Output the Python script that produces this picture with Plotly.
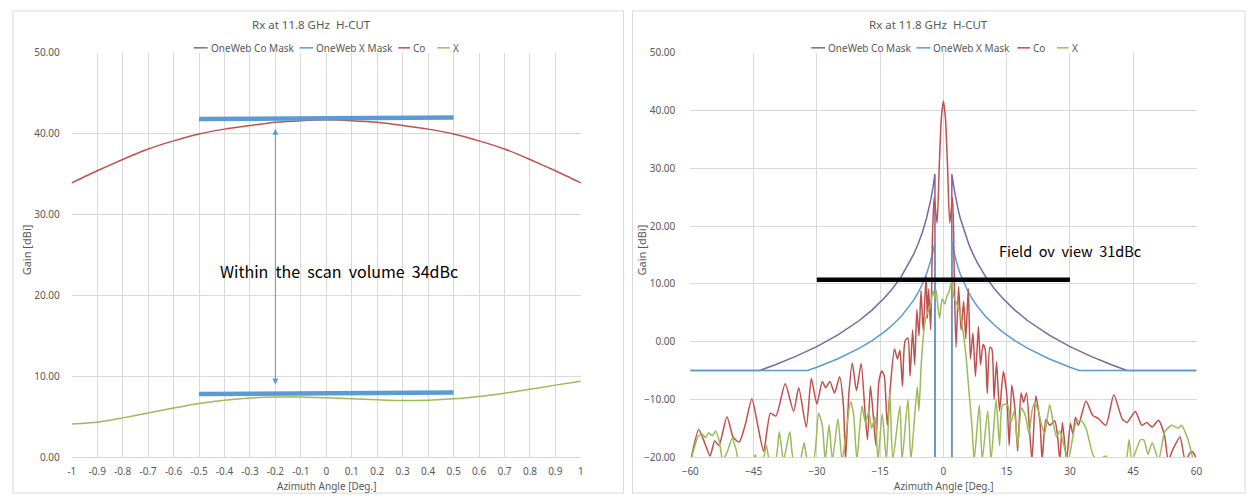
import plotly.graph_objects as go

W, H = 1255, 503

# ---------------- Left chart data (zoom -1..1) ----------------
ang_left = [-1.0, -0.9, -0.8, -0.7, -0.6, -0.5, -0.4, -0.3, -0.2, -0.1, 0.0,
            0.1, 0.2, 0.3, 0.4, 0.5, 0.6, 0.7, 0.8, 0.9, 1.0]
co_left = [33.9, 35.4, 36.8, 38.1, 39.1, 39.95, 40.55, 41.0, 41.4, 41.6, 41.7,
           41.6, 41.4, 41.0, 40.55, 39.95, 39.1, 38.1, 36.8, 35.4, 33.9]
x_left = [4.1, 4.3, 4.85, 5.45, 6.07, 6.64, 7.04, 7.3, 7.42, 7.42, 7.33,
          7.2, 7.09, 7.0, 7.04, 7.2, 7.5, 7.9, 8.4, 8.9, 9.37]

# reference bars drawn on left chart
ref_top_x = [-0.5, 0.5]
ref_top_y = [41.8, 42.0]
ref_bot_x = [-0.5, 0.5]
ref_bot_y = [7.8, 8.0]
arrow_x = -0.2
arrow_y = [40.6, 8.8]

# ---------------- Right chart data (-60..60) ----------------
mask_ang = [-60, -43.5, -40, -35, -30, -25, -20, -17, -14, -12, -10, -8, -7, -6, -5,
            -4, -3.5, -3, -2.5, -2, -2, None, 2, 2, 2.5, 3, 3.5, 4, 5, 6, 7, 8, 10,
            12, 14, 17, 20, 25, 30, 35, 40, 43.5, 60]
co_mask = [-5, -5, -4.05, -2.57, -0.87, 1.14, 3.6, 5.4, 7.53, 9.24, 11.25, 13.71, 15.18,
           16.88, 18.89, 21.35, 22.83, 24.53, 26.54, 29.0, -25, None, -25, 29.0, 26.54,
           24.53, 22.83, 21.35, 18.89, 16.88, 15.18, 13.71, 11.25, 9.24, 7.53, 5.4, 3.6,
           1.14, -0.87, -2.57, -4.05, -5, -5]
xmask_ang = [-60, -32.2, -30, -25, -20, -17, -14, -12, -10, -8, -7, -6, -5, -4, -3.5,
             -3, -2.5, -2, -2, None, 2, 2, 2.5, 3, 3.5, 4, 5, 6, 7, 8, 10, 12, 14, 17,
             20, 25, 30, 32.2, 60]
x_mask = [-5, -5, -4.44, -2.98, -1.19, 0.11, 1.67, 2.9, 4.36, 6.15, 7.22, 8.45, 9.91,
          11.7, 12.77, 14.0, 15.46, 17.25, -25, None, -25, 17.25, 15.46, 14.0, 12.77,
          11.7, 9.91, 8.45, 7.22, 6.15, 4.36, 2.9, 1.67, 0.11, -1.19, -2.98, -4.44, -5, -5]

co_ang = [-60.0, -58.0, -56.6, -55.3, -54.2, -53.2, -51.3, -49.8, -48.4, -47.0, -45.4,
          -44.0, -42.6, -41.0, -39.7, -37.5, -35.5, -34.3, -32.5, -31.3, -30.0, -28.7,
          -27.9, -26.9, -25.8, -24.6, -23.7, -23.2, -22.4, -21.6, -20.6, -19.5, -18.6,
          -18.0, -17.3, -16.6, -16.0, -15.3, -14.6, -14.0, -13.3, -12.6, -11.6, -10.9,
          -10.3, -9.7, -9.1, -8.4, -7.9, -7.3, -6.8, -6.3, -5.8, -5.3, -4.8, -4.1, -3.8,
          -3.5, -3.0, -2.6, -2.2, -1.5, -1.0, -0.5, 0.0, 0.5, 1.0, 1.5, 2.2, 2.6, 3.0,
          3.6, 4.2, 4.8, 5.3, 5.9, 6.4, 7.0, 7.6, 8.3, 8.8, 9.4, 9.9, 10.4, 11.0, 11.5,
          12.0, 12.6, 13.3, 14.2, 15.0, 15.6, 16.2, 17.0, 17.6, 18.4, 19.0, 19.7, 20.5,
          21.0, 21.9, 22.9, 23.4, 24.3, 25.2, 26.4, 27.0, 27.6, 28.2, 28.8, 29.2, 30.1,
          30.7, 31.3, 32.0, 33.8, 35.4, 36.7, 38.5, 40.4, 42.4, 43.5, 45.5, 47.0, 48.2,
          49.5, 51.0, 52.4, 53.3, 54.5, 56.1, 57.3, 58.8, 59.5, 60.0]
co_gain = [-21.0, -15.2, -17.5, -19.8, -17.2, -18.0, -13.0, -16.6, -17.4, -14.5, -9.9,
           -14.5, -19.0, -12.4, -12.9, -7.3, -12.1, -8.0, -14.8, -6.4, -10.8, -6.9,
           -8.0, -6.9, -8.9, -6.1, -11.0, -20.5, -9.0, -3.7, -8.5, -3.8, -12.0,
           -17.0, -7.7, -13.0, -18.0, -7.0, -5.1, -6.0, -14.5, -8.0, -1.3, -3.0,
           -1.5, -7.8, 0.1, 0.6, -6.0, 2.0, -4.0, 5.5, 1.0, 8.8, 2.0, 11.3, 4.0,
           9.1, 2.0, 18.0, 25.0, 20.5, 30.0, 38.5, 41.6, 38.5, 30.0, 20.5, 25.0, 10.0, -1.0,
           9.5, 2.0, 7.0, 0.5, 9.2, -3.0, 1.5, -6.0, 2.6, -4.0, -0.5, -1.3, -9.0, -1.0, -1.3,
           -10.0, -3.5, -12.0, -5.2, -9.0, -18.0, -7.5, -12.0, -19.0, -8.9, -10.5, -8.9, -16.2,
           -20.5, -9.4, -14.0, -20.5, -13.5, -14.5, -13.7, -16.0, -20.5, -14.0, -18.0, -20.5, -14.2,
           -16.0, -13.1, -14.5, -10.3, -12.8, -13.3, -14.5, -9.2, -13.4, -14.0, -12.1, -14.5, -14.0,
           -14.8, -13.6, -16.2, -20.5, -18.5, -16.5, -20.5, -19.0, -19.5, -20.5]

xp_ang = [-60.0, -58.1, -57.2, -56.4, -55.6, -54.8, -54.0, -53.2, -52.3, -51.2, -50.1,
          -49.2, -48.5, -45.0, -44.6, -44.2, -42.8, -42.0, -41.2, -39.8, -38.9, -37.9,
          -36.4, -35.5, -34.0, -33.0, -32.2, -30.8, -29.6, -28.7, -28.0, -27.1, -26.3,
          -25.0, -24.0, -22.0, -21.3, -20.5, -19.3, -18.5, -17.7, -17.0, -16.2, -15.5,
          -14.5, -13.5, -12.7, -12.0, -10.3, -9.8, -8.4, -7.7, -6.2, -5.8, -5.25, -4.6,
          -4.07, -3.5, -3.0, -2.5, -2.0, -1.7, -1.3, -0.9, -0.3, 0.3, 0.9, 1.3, 1.9,
          2.4, 3.2, 4.0, 4.6, 5.3, 6.1, 6.8, 7.3, 8.5, 9.2, 10.5, 11.3, 12.5, 13.3,
          14.0, 15.2, 16.0, 16.8, 17.6, 18.5, 19.5, 20.3, 21.0, 21.7, 22.5, 23.3, 24.0,
          25.2, 26.0, 26.8, 27.6, 28.4, 29.6, 31.5, 32.6, 33.8, 35.4, 36.5, 38.5, 39.0,
          43.2, 44.0, 44.7, 46.7, 47.5, 48.5, 49.5, 51.0, 52.5, 54.1, 55.7, 56.4, 58.0,
          59.3, 60.0]
xp_gain = [-21.0, -16.4, -16.0, -16.6, -15.8, -16.3, -15.5, -17.0, -20.5, -19.0, -16.8,
           -18.5, -20.5, -20.5, -19.6, -20.5, -20.5, -17.9, -20.5, -20.5, -15.6, -20.5,
           -15.6, -20.5, -20.5, -17.5, -20.5, -20.5, -12.4, -14.5, -20.5, -14.4, -20.5,
           -13.4, -20.5, -10.4, -12.5, -20.5, -11.1, -14.0, -12.2, -15.0, -13.0, -20.5,
           -12.5, -20.5, -8.9, -20.5, -11.1, -20.5, -10.0, -20.5, -7.8, -12.0, -3.8, 2.0,
           4.4, 5.5, 6.5, 8.8, 7.5, 8.9, 6.0, 4.0, 7.4, 6.5, 8.0, 8.5, 10.3,
           8.0, 6.4, 4.7, 2.0, -2.1, -8.9, -15.0, -20.5, -11.0, -20.5, -12.0, -20.5, -10.0, -18.0,
           -11.0, -10.9, -14.0, -12.0, -18.0, -11.5, -13.0, -16.0, -12.0, -10.6, -12.0, -14.5, -16.0,
           -10.9, -14.0, -16.5, -15.5, -17.5, -20.5, -13.9, -13.7, -15.0, -19.5, -20.5, -19.8, -20.5,
           -20.5, -17.0, -20.5, -17.0, -17.0, -19.5, -17.5, -20.5, -15.6, -14.5, -15.0, -14.5, -17.0,
           -20.5, -21.0]

fov_x = [-30.0, 30.0]
fov_y = [10.7, 10.7]

series_names = ["OneWeb Co Mask", "OneWeb X Mask", "Co", "X"]
left_ticks = [-1, -0.9, -0.8, -0.7, -0.6, -0.5, -0.4, -0.3, -0.2, -0.1, 0,
              0.1, 0.2, 0.3, 0.4, 0.5, 0.6, 0.7, 0.8, 0.9, 1]
left_ticktext = ["-1", "-0.9", "-0.8", "-0.7", "-0.6", "-0.5", "-0.4", "-0.3", "-0.2",
                 "-0.1", "0", "0.1", "0.2", "0.3", "0.4", "0.5", "0.6", "0.7", "0.8",
                 "0.9", "1"]

# ---------------- Styling ----------------
PURPLE = "#8064a2"
BLUE = "#5b9bd5"
RED = "#c0504d"
GREEN = "#9bbb59"
COLORS = [PURPLE, BLUE, RED, GREEN]
TXT = "#595959"
GRID = "#d9d9d9"
FONT = "Noto Sans"
CLEAR = "rgba(0,0,0,0)"


def px_x(p):
    return p / W


def px_y(p):
    return 1 - p / H


fig = go.Figure()


def add_series(xa, ya, x, y, name, color, width=1.5, smooth=False):
    fig.add_trace(go.Scatter(
        x=x, y=y, name=name, mode="lines", xaxis=xa, yaxis=ya,
        line=dict(color=color, width=width, shape="spline" if smooth else "linear",
                  smoothing=0.6),
        showlegend=False, connectgaps=False, hoverinfo="skip"))


# left chart
add_series("x", "y", mask_ang, co_mask, series_names[0], PURPLE)
add_series("x", "y", xmask_ang, x_mask, series_names[1], BLUE)
add_series("x", "y", ang_left, co_left, series_names[2], RED, smooth=True)
add_series("x", "y", ang_left, x_left, series_names[3], GREEN, smooth=True)
add_series("x", "y", ref_top_x, ref_top_y, "ref1", BLUE, width=4.5)
add_series("x", "y", ref_bot_x, ref_bot_y, "ref2", BLUE, width=4.5)

# right chart
add_series("x2", "y2", mask_ang, co_mask, series_names[0], PURPLE)
add_series("x2", "y2", xmask_ang, x_mask, series_names[1], BLUE)
add_series("x2", "y2", co_ang, co_gain, series_names[2], RED, smooth=True)
add_series("x2", "y2", xp_ang, xp_gain, series_names[3], GREEN, smooth=True)
add_series("x2", "y2", fov_x, fov_y, "fov", "#000000", width=4.5)

xaxis_common = dict(showgrid=True, gridcolor=GRID, gridwidth=1, zeroline=False,
                    showline=True, linecolor=GRID, linewidth=1, ticks="outside",
                    ticklen=5, tickcolor=CLEAR,
                    tickfont=dict(family=FONT, size=10, color=TXT))

fig.update_layout(
    width=W, height=H, margin=dict(l=0, r=0, t=0, b=0),
    paper_bgcolor="white", plot_bgcolor="white",
    font=dict(family=FONT, color=TXT), showlegend=False,
    xaxis=dict(domain=[px_x(63.5), px_x(578.8)], range=[-1, 1], anchor="y",
               tickmode="array", tickvals=left_ticks, ticktext=left_ticktext,
               **xaxis_common),
    yaxis=dict(domain=[px_y(463), px_y(47)], range=[0, 50], dtick=10, tickformat=".2f",
               anchor="x", showline=False, showgrid=True, gridcolor=GRID, zeroline=False,
               ticks="outside", ticklen=9, tickcolor=CLEAR,
               tickfont=dict(family=FONT, size=10, color=TXT)),
    xaxis2=dict(domain=[px_x(689.5), px_x(1201.9)], range=[-60, 60], dtick=15, anchor="y2",
                **xaxis_common),
    yaxis2=dict(domain=[px_y(463), px_y(47)], range=[-20, 50], dtick=10, tickformat=".2f",
                anchor="x2", showline=False, showgrid=True, gridcolor=GRID, zeroline=False,
                ticks="outside", ticklen=12, tickcolor=CLEAR,
                tickfont=dict(family=FONT, size=10, color=TXT)),
)

# chart borders
fig.add_shape(type="rect", xref="paper", yref="paper", x0=px_x(4), x1=px_x(622),
              y0=px_y(500), y1=px_y(4), line=dict(color=GRID, width=1), layer="below")
fig.add_shape(type="rect", xref="paper", yref="paper", x0=px_x(631), x1=px_x(1251),
              y0=px_y(500), y1=px_y(4), line=dict(color=GRID, width=1), layer="below")

ann = []
for cx in (306, 931):
    ann.append(dict(text="Rx at 11.8 GHz  H-CUT", x=px_x(cx), y=px_y(18), xref="paper",
                    yref="paper", xanchor="center", yanchor="middle", showarrow=False,
                    font=dict(family=FONT, size=11.5, color=TXT)))
for cx in (321, 946):
    ann.append(dict(text="Azimuth Angle [Deg.]", x=px_x(cx), y=px_y(493), xref="paper",
                    yref="paper", xanchor="center", yanchor="middle", showarrow=False,
                    font=dict(family=FONT, size=10, color=TXT)))
for cx in (17.5, 640):
    ann.append(dict(text="Gain [dBi]", x=px_x(cx), y=px_y(250), xref="paper", yref="paper",
                    xanchor="center", yanchor="middle", showarrow=False, textangle=-90,
                    font=dict(family=FONT, size=11, color=TXT)))

# legends (line sample + label) for each chart
legend_pos = [
    [(187, 201, 203), (294, 308, 310), (394, 406, 408), (433.5, 446, 448.5)],
    [(812, 826, 827.5), (918.5, 932.5, 934.5), (1020.5, 1033.5, 1035.5), (1060.5, 1072.5, 1075)],
]
LEG_Y = 42
for entries in legend_pos:
    for (x0, x1, tx), name, col in zip(entries, series_names, COLORS):
        fig.add_shape(type="line", xref="paper", yref="paper", x0=px_x(x0), x1=px_x(x1),
                      y0=px_y(LEG_Y), y1=px_y(LEG_Y), line=dict(color=col, width=1.5))
        ann.append(dict(text=name, x=px_x(tx), y=px_y(LEG_Y), xref="paper", yref="paper",
                        xanchor="left", yanchor="middle", showarrow=False, borderpad=0,
                        font=dict(family=FONT, size=10, color=TXT)))

NB = "\u00a0"
ann.append(dict(text=f"Within{NB} the{NB} scan{NB} volume{NB} 34dBc", x=0.05, y=23.0,
                xref="x", yref="y", xanchor="center", yanchor="middle", showarrow=False,
                font=dict(family="Noto Sans CJK KR", size=16, color="#000000")))
ann.append(dict(text=f"Field{NB} ov{NB} view{NB} 31dBc", x=30.0, y=15.7, xref="x2", yref="y2",
                xanchor="center", yanchor="middle", showarrow=False,
                font=dict(family="Noto Sans CJK KR", size=14.5, color="#000000")))
# double-headed arrow
ann.append(dict(x=arrow_x, y=arrow_y[0], ax=arrow_x, ay=arrow_y[1], xref="x", yref="y",
                axref="x", ayref="y", text="", showarrow=True, arrowhead=2,
                arrowside="end+start", arrowsize=1.2, arrowwidth=1, arrowcolor=BLUE))
fig.update_layout(annotations=ann)

fig.write_html("out.html")
